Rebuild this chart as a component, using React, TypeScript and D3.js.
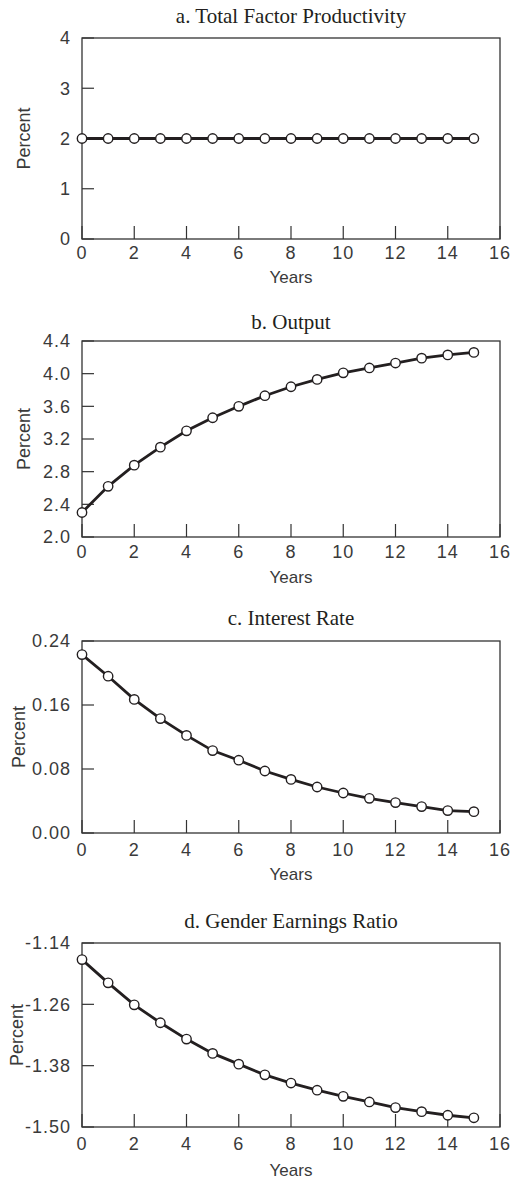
import React, { useRef, useEffect } from 'react';
import * as d3 from 'd3';

// Years 0..15 simulated
const years = d3.range(0, 16);

const tfpValues = [2, 2, 2, 2, 2, 2, 2, 2, 2, 2, 2, 2, 2, 2, 2, 2];
const outputValues = [2.3, 2.62, 2.88, 3.1, 3.3, 3.46, 3.6, 3.73, 3.84, 3.93, 4.01, 4.07, 4.13, 4.19, 4.23, 4.26];
const interestValues = [0.223, 0.196, 0.167, 0.143, 0.122, 0.103, 0.091, 0.0775, 0.067, 0.0575, 0.05, 0.0433, 0.038, 0.033, 0.028, 0.0267];
const genderValues = [-1.1725, -1.218, -1.261, -1.296, -1.328, -1.356, -1.377, -1.398, -1.414, -1.428, -1.44, -1.451, -1.462, -1.47, -1.477, -1.482];

const xTicks = [0, 2, 4, 6, 8, 10, 12, 14, 16];
const tfpTicks = [0, 1, 2, 3, 4];
const outputTicks = [2.0, 2.4, 2.8, 3.2, 3.6, 4.0, 4.4];
const interestTicks = [0, 0.08, 0.16, 0.24];
const genderTicks = [-1.5, -1.38, -1.26, -1.14];

const titles = [
    'a. Total Factor Productivity',
    'b. Output',
    'c. Interest Rate',
    'd. Gender Earnings Ratio',
];

const panels = [
    { title: titles[0], values: tfpValues, ticks: tfpTicks, fmt: d3.format('d'), top: 38, bottom: 239, titleGap: 15, tickGap: 20, yearsGap: 44, percentX: 30 },
    { title: titles[1], values: outputValues, ticks: outputTicks, fmt: d3.format('.1f'), top: 341, bottom: 537, titleGap: 12, tickGap: 21, yearsGap: 46, percentX: 30 },
    { title: titles[2], values: interestValues, ticks: interestTicks, fmt: d3.format('.2f'), top: 641, bottom: 833, titleGap: 16, tickGap: 23, yearsGap: 47, percentX: 25 },
    { title: titles[3], values: genderValues, ticks: genderTicks, fmt: (v: number) => d3.format('.2f')(v).replace('−', '-'), top: 943, bottom: 1127, titleGap: 15, tickGap: 23, yearsGap: 49, percentX: 23 },
];

const W = 513;
const H = 1182;
const LEFT = 82;
const RIGHT = 500;
const INK = '#231f20';
const GREY = '#3a3a3a';
const SANS = '"Liberation Sans", Arial, sans-serif';
const SERIF = '"Liberation Serif", "Times New Roman", serif';

const App: React.FC = () => {
    const ref = useRef<SVGSVGElement>(null);

    useEffect(() => {
        if (!ref.current) return;
        const svg = d3.select(ref.current);
        svg.selectAll('*').remove();

        const x = d3.scaleLinear().domain([0, 16]).range([LEFT, RIGHT]);

        panels.forEach(p => {
            const ext = d3.extent(p.ticks) as [number, number];
            const y = d3.scaleLinear().domain(ext).range([p.bottom, p.top]);
            const g = svg.append('g');

            // title
            g.append('text')
                .attr('x', (LEFT + RIGHT) / 2)
                .attr('y', p.top - p.titleGap)
                .attr('text-anchor', 'middle')
                .attr('font-family', SERIF)
                .attr('font-size', 21)
                .attr('fill', INK)
                .text(p.title);

            // inward ticks
            g.selectAll('line.xt')
                .data(xTicks)
                .enter()
                .append('line')
                .attr('x1', d => x(d))
                .attr('x2', d => x(d))
                .attr('y1', p.bottom)
                .attr('y2', p.bottom - 13)
                .attr('stroke', '#333')
                .attr('stroke-width', 1.2);

            g.selectAll('line.yt')
                .data(p.ticks)
                .enter()
                .append('line')
                .attr('x1', LEFT)
                .attr('x2', LEFT + 12)
                .attr('y1', d => y(d))
                .attr('y2', d => y(d))
                .attr('stroke', '#333')
                .attr('stroke-width', 1.2);

            // box
            g.append('rect')
                .attr('x', LEFT)
                .attr('y', p.top)
                .attr('width', RIGHT - LEFT)
                .attr('height', p.bottom - p.top)
                .attr('fill', 'none')
                .attr('stroke', '#333')
                .attr('stroke-width', 1.3);

            // tick labels
            g.selectAll('text.xl')
                .data(xTicks)
                .enter()
                .append('text')
                .attr('x', d => x(d))
                .attr('y', p.bottom + p.tickGap)
                .attr('text-anchor', 'middle')
                .attr('font-family', SANS)
                .attr('font-size', 18)
                .attr('letter-spacing', 1)
                .attr('fill', GREY)
                .text(d => String(d));

            g.selectAll('text.yl')
                .data(p.ticks)
                .enter()
                .append('text')
                .attr('x', 71)
                .attr('y', d => y(d))
                .attr('dy', '0.36em')
                .attr('text-anchor', 'end')
                .attr('font-family', SANS)
                .attr('font-size', 18)
                .attr('letter-spacing', 1)
                .attr('fill', GREY)
                .text(d => p.fmt(d));

            // axis titles
            g.append('text')
                .attr('x', (LEFT + RIGHT) / 2)
                .attr('y', p.bottom + p.yearsGap)
                .attr('text-anchor', 'middle')
                .attr('font-family', SANS)
                .attr('font-size', 17)
                .attr('fill', GREY)
                .text('Years');

            g.append('text')
                .attr('transform', `translate(${p.percentX},${(p.top + p.bottom) / 2}) rotate(-90)`)
                .attr('text-anchor', 'middle')
                .attr('font-family', SANS)
                .attr('font-size', 18)
                .attr('fill', GREY)
                .text('Percent');

            // series
            const data = years.map((yr, i) => ({ yr, v: p.values[i] }));
            const line = d3.line<{ yr: number; v: number }>()
                .x(d => x(d.yr))
                .y(d => y(d.v));

            g.append('path')
                .datum(data)
                .attr('fill', 'none')
                .attr('stroke', INK)
                .attr('stroke-width', 2.8)
                .attr('d', line);

            g.selectAll('circle')
                .data(data)
                .enter()
                .append('circle')
                .attr('cx', d => x(d.yr))
                .attr('cy', d => y(d.v))
                .attr('r', 4.7)
                .attr('fill', '#fff')
                .attr('stroke', INK)
                .attr('stroke-width', 1.4);
        });
    }, []);

    return (
        <svg
            ref={ref}
            width={W}
            height={H}
            viewBox={`0 0 ${W} ${H}`}
            style={{ position: 'absolute', left: 0, top: 0, background: '#fff' }}
        />
    );
};

export default App;
